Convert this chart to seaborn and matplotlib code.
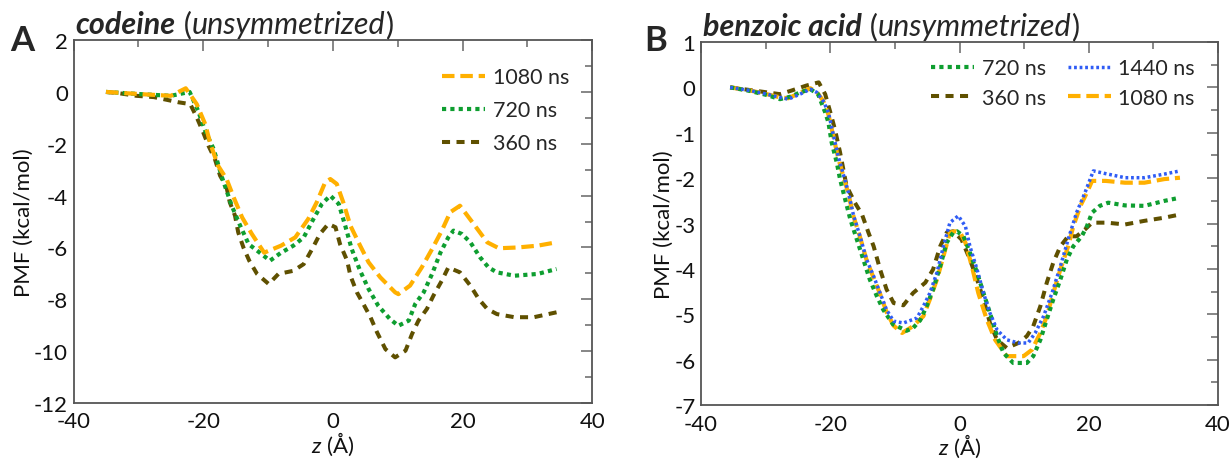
import numpy as np
import pandas as pd
import matplotlib
matplotlib.use("Agg")
import matplotlib.pyplot as plt
from matplotlib.lines import Line2D
from matplotlib.ticker import MultipleLocator
import seaborn as sns

# ---------------- data: panel A (codeine) ----------------
A_1080_z = [-35, -30, -25, -22.7, -21, -19.7, -18.9, -17.7, -16.4, -15.3,
            -14, -12.5, -10.6, -8, -5.8, -3.8, -2.5, -1.2, -0.4, 0.6,
            1.6, 2.7, 4.2, 5.5, 7.3, 9.6, 10.1, 11.9, 13.7, 15.3,
            16.8, 18.1, 19.6, 21.7, 23.8, 25.6, 28.5, 31.6, 34.5]
A_1080 = [0, -0.08, -0.15, 0.14, -0.47, -1.24, -2.0, -2.85, -3.36, -4.07,
          -4.84, -5.48, -6.2, -5.93, -5.61, -4.9, -4.26, -3.49, -3.36, -3.55,
          -4.26, -5.16, -5.93, -6.57, -7.15, -7.73, -7.8, -7.47, -6.77, -6.06,
          -5.35, -4.64, -4.39, -5.09, -5.8, -6.03, -6.0, -5.93, -5.8]

A_720_z = [-35, -30, -25, -22.1, -20.8, -19.7, -18.4, -17.1, -15.6, -14.3,
           -13, -11.7, -9.7, -8.1, -6.1, -4.5, -3, -1.7, -0.4, 0.9,
           1.9, 2.9, 4.2, 5.5, 7, 8.8, 10.1, 11.7, 12.7, 14,
           15.3, 16.6, 17.8, 18.6, 19.9, 21.2, 22.7, 24, 25.3, 28,
           31.6, 34.5]
A_720 = [0, -0.08, -0.15, 0.0, -0.72, -1.5, -2.2, -3.3, -4.39, -5.16,
         -5.87, -6.12, -6.51, -6.22, -5.93, -5.61, -4.9, -4.32, -4.0, -4.32,
         -5.16, -6.06, -6.9, -7.6, -8.25, -8.76, -9.02, -8.82, -8.18, -7.73,
         -7.02, -6.19, -5.61, -5.35, -5.48, -5.8, -6.38, -6.77, -6.96, -7.09,
         -7.02, -6.83]

A_360_z = [-35, -33, -30.3, -27.6, -23.8, -22, -21, -20, -19.2, -18.2,
           -17.4, -16.4, -15.9, -15.1, -14.6, -13.8, -12.9, -11.7, -9.9, -8.4,
           -6.1, -4.5, -3.2, -2, -0.7, 0.4, 1.1, 2.2, 2.7, 3.7,
           4.7, 5.8, 6.8, 8.1, 9.6, 11.2, 12.2, 13.2, 14.5, 15.5,
           16.8, 17.8, 19.6, 21.2, 22.5, 23.8, 25.3, 28, 31, 34.5]
A_360 = [0, -0.05, -0.15, -0.2, -0.4, -0.47, -0.98, -1.56, -2.07, -2.59,
         -3.23, -3.68, -4.26, -4.77, -5.42, -6.0, -6.51, -7.02, -7.41, -7.02,
         -6.9, -6.64, -6.06, -5.48, -5.09, -5.22, -5.87, -6.51, -7.09, -7.73,
         -8.18, -8.69, -9.27, -9.92, -10.24, -9.98, -9.34, -8.82, -8.37, -7.86,
         -7.28, -6.77, -6.96, -7.47, -7.99, -8.37, -8.57, -8.69, -8.69, -8.5]

# ---------------- data: panel B (benzoic acid) ----------------
B_1440_z = [-35.5, -32.4, -29.8, -27.8, -26.5, -24.7, -23.1, -22.1, -21.1, -20.3,
            -19.5, -18.8, -18, -17.2, -16.4, -15.4, -14.4, -13.3, -12.3, -11.3,
            -10.2, -8.7, -6.6, -5.6, -4.6, -3.5, -2.5, -1.5, -0.2, 0.9,
            1.6, 2.7, 3.7, 4.7, 5.8, 7.3, 9.1, 10.6, 11.7, 13,
            14.3, 15.6, 16.8, 18.1, 19.4, 20.7, 22.6, 25.6, 28.6, 31.7,
            34.1]
B_1440 = [0, -0.07, -0.15, -0.22, -0.26, -0.15, -0.04, -0.11, -0.3, -0.55,
          -1.07, -1.51, -1.91, -2.32, -2.83, -3.28, -3.79, -4.16, -4.53, -4.9,
          -5.15, -5.19, -5.08, -4.82, -4.53, -4.08, -3.5, -2.98, -2.83, -3.06,
          -3.5, -4.01, -4.53, -4.97, -5.34, -5.56, -5.63, -5.63, -5.41, -5.04,
          -4.53, -3.94, -3.35, -2.76, -2.32, -1.84, -1.9, -1.99, -1.99, -1.91,
          -1.84]

B_1080_z = [-35.5, -32.4, -29.8, -27.8, -26.5, -24.7, -23.1, -22.1, -21.1, -20.3,
            -19.5, -18.8, -18, -17.2, -16.4, -15.4, -14.4, -13.3, -12.3, -11.3,
            -10.2, -8.9, -7.2, -5.6, -4.6, -3.5, -2.5, -1.5, -0.7, 0.1,
            0.9, 1.9, 2.9, 4.2, 5.5, 7.3, 9.9, 11.2, 12.5, 13.5,
            14.5, 15.6, 16.8, 17.6, 18.7, 19.7, 20.5, 22.6, 25.6, 28.6,
            31.7, 34.1]
B_1080 = [0, -0.07, -0.15, -0.22, -0.24, -0.12, -0.02, -0.1, -0.3, -0.6,
          -1.1, -1.55, -1.95, -2.35, -2.85, -3.3, -3.8, -4.2, -4.55, -4.95,
          -5.25, -5.41, -5.26, -5.04, -4.67, -4.23, -3.72, -3.2, -3.17, -3.2,
          -3.42, -3.94, -4.53, -5.11, -5.56, -5.92, -5.92, -5.78, -5.41, -5.04,
          -4.53, -4.01, -3.5, -3.06, -2.61, -2.32, -2.06, -2.06, -2.1, -2.1,
          -2.02, -1.99]

B_720_z = [-35.5, -32.4, -29.8, -27.8, -26, -24.7, -23.1, -21.9, -20.8, -20.3,
           -19.8, -19, -18.5, -17.7, -16.9, -15.9, -14.9, -13.9, -12.8, -11.8,
           -10.3, -8.2, -7.2, -6.1, -5.1, -4.1, -3, -2, -1, -0.4,
           0.6, 1.6, 2.7, 3.7, 4.7, 5.8, 6.8, 8.3, 10.4, 11.4,
           12.5, 13.5, 14.5, 15.6, 16.6, 17.6, 18.9, 19.7, 20.5, 21.7,
           23, 25.6, 28.6, 31.7, 34.1]
B_720 = [0, -0.08, -0.17, -0.26, -0.2, -0.11, -0.04, -0.15, -0.55, -0.77,
         -1.21, -1.66, -2.02, -2.47, -2.91, -3.35, -3.79, -4.23, -4.6, -4.9,
         -5.22, -5.36, -5.3, -5.13, -4.82, -4.45, -3.94, -3.42, -3.2, -3.17,
         -3.28, -3.64, -4.08, -4.53, -4.97, -5.48, -5.85, -6.07, -6.07, -5.92,
         -5.56, -5.11, -4.67, -4.23, -3.79, -3.5, -3.28, -3.06, -2.76, -2.61,
         -2.54, -2.6, -2.61, -2.5, -2.43]

B_360_z = [-35.5, -32.4, -29.8, -27.8, -26, -23.7, -21.8, -20.8, -20, -19.3,
           -18.5, -17.5, -16.2, -15.1, -14.1, -13.3, -12.3, -11.3, -10.2, -8.7,
           -7.2, -5.3, -4.1, -3, -2, -1, 0.3, 1.6, 2.7, 3.7,
           4.7, 5.8, 7.3, 9.1, 10.4, 11.4, 12.5, 13.5, 14.5, 15.6,
           16.8, 18.1, 19.4, 20.5, 22.8, 25.6, 28.6, 31.7, 34.1]
B_360 = [0, -0.06, -0.11, -0.15, -0.07, 0.04, 0.11, -0.15, -0.55, -0.92,
         -1.43, -2.17, -2.54, -2.8, -3.2, -3.5, -4.01, -4.45, -4.75, -4.8,
         -4.53, -4.3, -4.01, -3.5, -3.2, -3.17, -3.35, -3.79, -4.23, -4.67,
         -5.19, -5.56, -5.74, -5.63, -5.48, -5.26, -4.82, -4.3, -3.86, -3.5,
         -3.28, -3.28, -3.13, -2.98, -2.98, -3.02, -2.94, -2.87, -2.8]

labels_A = ["1080 ns", "720 ns", "360 ns"]
labels_B = ["720 ns", "360 ns", "1440 ns", "1080 ns"]

# ---------------- styles ----------------
colors = {"1440 ns": "#2F5CF5", "1080 ns": "#FFB000",
          "720 ns": "#0E9E30", "360 ns": "#5F5000"}
dashes = {"1440 ns": (0.8, 0.8), "1080 ns": (3.0, 1.4),
          "720 ns": (1.0, 1.0), "360 ns": (2.0, 1.6)}
lws = {"1440 ns": 2.5, "1080 ns": 3.0, "720 ns": 3.0, "360 ns": 2.9}

sns.set_theme(style="white")
plt.rcParams["font.family"] = ["Lato", "DejaVu Sans"]
plt.rcParams["mathtext.fontset"] = "custom"
plt.rcParams["mathtext.it"] = "Lato:italic"
plt.rcParams["mathtext.rm"] = "Lato"
plt.rcParams["axes.unicode_minus"] = False

fig = plt.figure(figsize=(12.3, 4.6), dpi=100)
axA = fig.add_axes([0.0598, 0.1217, 0.4217, 0.789])
axB = fig.add_axes([0.5700, 0.1170, 0.4203, 0.7896])


def make_df(series):
    frames = []
    for name, (z, v) in series.items():
        frames.append(pd.DataFrame({"z": z, "PMF": v, "time": name}))
    return pd.concat(frames, ignore_index=True)


dfA = make_df({"360 ns": (A_360_z, A_360), "720 ns": (A_720_z, A_720),
               "1080 ns": (A_1080_z, A_1080)})
dfB = make_df({"360 ns": (B_360_z, B_360), "1080 ns": (B_1080_z, B_1080),
               "720 ns": (B_720_z, B_720), "1440 ns": (B_1440_z, B_1440)})


def draw(ax, df):
    for name, sub in df.groupby("time", sort=False):
        sns.lineplot(data=sub, x="z", y="PMF", ax=ax, color=colors[name],
                     estimator=None, sort=False, legend=False,
                     linewidth=lws[name], dashes=False)
        ln = ax.lines[-1]
        ln.set_dashes(dashes[name])
        ln.set_dash_capstyle("butt")


draw(axA, dfA)
draw(axB, dfB)


def style_axis(ax, ylim, ymajor, yminor):
    ax.set_xlim(-40, 40)
    ax.set_ylim(*ylim)
    ax.xaxis.set_major_locator(MultipleLocator(20))
    ax.xaxis.set_minor_locator(MultipleLocator(10))
    ax.yaxis.set_major_locator(MultipleLocator(ymajor))
    ax.yaxis.set_minor_locator(MultipleLocator(yminor))
    ax.tick_params(which="both", direction="in", top=True, right=True,
                   color="#666666", labelsize=16, labelcolor="#111111")
    ax.tick_params(which="major", length=8, width=1.1)
    ax.tick_params(axis="x", which="major", pad=6)
    ax.tick_params(axis="y", which="major", pad=4)
    ax.tick_params(which="minor", length=5, width=1.1)
    for s in ax.spines.values():
        s.set_color("#555555")
        s.set_linewidth(1.3)
    ax.set_xlabel("$z$ (Å)", fontsize=16, labelpad=-1, color="#111111")
    ax.set_ylabel("PMF (kcal/mol)", fontsize=16, labelpad=0, color="#111111")


style_axis(axA, (-12, 2), 2, 1)
style_axis(axB, (-7, 1), 1, 0.5)


def title(ax, bold, fig_letter, letter_x):
    t1 = ax.text(0.004, 1.005, bold, transform=ax.transAxes, fontsize=22,
                 fontweight="bold", style="italic", va="bottom", ha="left")
    t2 = ax.annotate(" (", xy=(1, 0), xycoords=t1, va="bottom", fontsize=22)
    t3 = ax.annotate("unsymmetrized", xy=(1, 0), xycoords=t2, va="bottom",
                     fontsize=22, style="italic")
    ax.annotate(")", xy=(1, 0), xycoords=t3, va="bottom", fontsize=22)
    fig.text(letter_x, 0.945, fig_letter, fontsize=25, fontweight="bold",
             va="top", ha="left")


title(axA, "codeine", "A", 0.008)
title(axB, "benzoic acid", "B", 0.524)


def handles(names):
    return [Line2D([0], [0], color=colors[n], linewidth=lws[n],
                   dashes=dashes[n], dash_capstyle="butt") for n in names]


axA.legend(handles(labels_A), labels_A, loc="upper right",
           bbox_to_anchor=(0.955, 0.925), frameon=False, fontsize=15.5,
           handlelength=2.0, handletextpad=0.35, labelspacing=0.6,
           borderpad=0, borderaxespad=0)
axB.legend(handles(labels_B), labels_B, loc="upper right", ncol=2,
           bbox_to_anchor=(0.955, 0.955), frameon=False, fontsize=15.5,
           handlelength=2.0, handletextpad=0.35, labelspacing=0.45,
           columnspacing=1.0, borderpad=0, borderaxespad=0)

fig.savefig("out.png", dpi=100)
